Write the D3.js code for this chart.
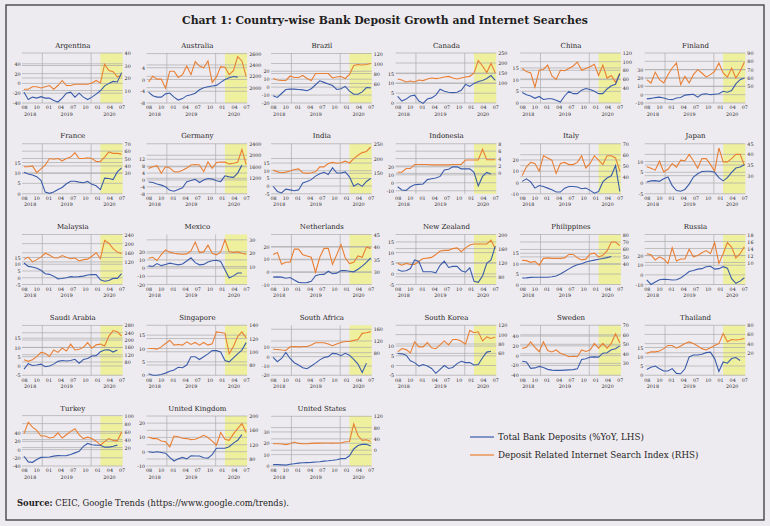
<!DOCTYPE html>
<html><head><meta charset="utf-8">
<script src="https://cdn.jsdelivr.net/npm/d3@7"></script>
<style>body{margin:0;background:#EEEBF0} svg{display:block}</style>
</head><body>
<svg id="c" width="770" height="526"></svg>
<script>
const countries = ["Argentina","Australia","Brazil","Canada","China","Finland",
"France","Germany","India","Indonesia","Italy","Japan",
"Malaysia","Mexico","Netherlands","New Zealand","Philippines","Russia",
"Saudi Arabia","Singapore","South Africa","South Korea","Sweden","Thailand",
"Turkey","United Kingdom","United States"];
const monthLabels = ["08","10","01","04","07","10","01","04","07"];
const yearLabels = ["2018","2019","2020"];
const legendLabels = ["Total Bank Deposits (%YoY, LHS)","Deposit Related Internet Search Index (RHS)"];

const leftDomain = [[-40,62],[-8,9],[-20,43],[0,25.5],[0,21.4],[-10,50],
[0,24],[-8,21],[-5,27.6],[-13.75,49],[-10,34.4],[-5,18.3],
[-5,32],[-20,41],[-10,29.5],[-5,18.5],[0,24],[-10,42],
[-5,22],[0,18.7],[-20,33.7],[-5,20.7],[-40,62],[0,27],
[-40,82],[-10,25],[0,44]];
const leftTicks = [[-40,-20,0,20,40],[-8,-4,0,4],[-20,-10,0,10,20],[0,5,10,15],[0,5,10,15],[-10,0,10,20,30],
[0,5,10,15],[-8,-4,0,4,8,12],[-5,0,5,10,15],[-10,0,10,20],[-10,0,10,20],[-5,0,5,10],
[-5,0,5,10,15],[-20,-10,0,10,20],[-10,0,10,20],[-5,0,5,10,15],[0,5,10,15],[-10,0,10,20],
[-5,0,5,10,15],[0,5,10,15],[-20,-10,0,10],[-5,0,5,10],[-40,-20,0,20,40],[0,5,10,15],
[-40,-20,0,20,40],[-10,0,10,20],[0,10,20,30]];
const rightDomain = [[0,40],[1730,2610],[21,121],[0,250],[4.3,120],[30,90],
[2.4,70],[663,2400],[81,250],[-5.5,8],[24.4,70],[21.5,45],
[21,240],[-3.4,34],[25.2,45],[58,200],[13,80],[3.7,18],
[8,281],[64.6,140],[3,173.7],[13.3,120],[17.5,70],[-29,80],
[-26,99],[60.5,200],[-56,121]];
const rightTicks = [[10,20,30,40],[2000,2200,2400,2600],[60,80,100,120],[100,150,200,250],[40,60,80,100,120],[50,60,70,80,90],
[30,40,50,60,70],[1200,1600,2000,2400],[150,200,250],[0,2,4,6,8],[40,50,60,70],[30,35,40,45],
[120,160,200,240],[10,20,30],[30,35,40,45],[80,120,160,200],[40,50,60,70,80],[10,12,14,16,18],
[80,120,160,200,240,280],[80,100,120,140],[80,120,160],[60,80,100,120],[30,40,50,60,70],[20,40,60,80],
[20,40,60,80,100],[80,120,160,200],[0,40,80,120]];

// Monthly values Aug-2018 .. Jul-2020 (null = not available)
const depArgentina = [-18,-33,-28,-30,-27,-30,-30,-35,-38,-30,-20,-18,-28,-20,-28,-33,-28,-22,-15,-5,0,4,3,22];
const srchArgentina = [11,11,13,13,12,13,14,11,14,18,14,14,15,15,15,15,16,18,16,31,26,25,21,22];
const depAustralia = [-4.3,-5.5,-6,-6,-4.9,-4.6,-6,-7,-6.5,-5.5,-5.2,-4.7,-3.5,-2.8,-2.5,-2.2,-2,-1,0,0.6,1,0.8,null,null];
const srchAustralia = [2103,2200,2150,2150,1990,2290,2290,2180,2230,2380,2230,2460,2380,2350,2470,2093,2190,2370,2360,2230,2300,2547,2470,2200];
const depBrazil = [-11,-13,-8,-3,-2.5,-2.5,-3,-3.5,-4.5,-2,3,8,6,4,2,-3,-2,1,-5,-9,-9,-6,-0.5,-1];
const srchBrazil = [70,67,66,66,75,72,72,76,70,66,80,80,80,80,71,73,74,70,78,96,98,97,98,100];
const depCanada = [3.4,1,2,3.6,4,1,-0.2,2,2.6,4,7,6,5.5,5.3,5.5,6.5,9.5,8.5,10,11,11.5,12.5,14,11.5];
const srchCanada = [120,115,105,110,105,115,112,120,125,122,125,130,133,125,120,125,130,133,150,212,185,152,198,150];
const depChina = [4.5,3.5,3,2,2.8,1.5,1.8,1.8,1.2,0.4,3,5,4,4,5.5,6.2,5.8,5,4,4,6,7.4,8,12.5];
const srchChina = [84,77,74,41,80,82,92,67,59,80,79,84,90,99,80,84,88,94,68,92,62,68,52,73];
const depFinland = [-5,-4.5,-3.5,-3,-4,-5.5,-6,-4,-3.5,-0.5,0,0.5,-3,0.5,1,0,0.5,1,4,3,5,13,18,20];
const srchFinland = [58,54,67,58,54,64,72,78,52,62,54,64,70,66,61,64,68,78,66,61,72,60,68,79];
const depFrance = [10.3,9.5,9,8.2,6.5,0.8,0.2,0.8,2,3,4.8,6,6,5.6,5.3,5.9,4.5,3.8,2,7.5,7.3,6.8,10.5,12.4];
const srchFrance = [39,39,40,31,36,41,50,49,50,47,50,52,58,50,50,51,50,46,46,52,59,57,57,56];
const depGermany = [-1.2,-1.5,-2.3,-3,-4,-6,-6.5,-5.5,-4.5,-1,-0.3,0.4,-1.5,0,0.8,0.5,-0.5,-1,2.4,1.8,1.5,4,8.6,null];
const srchGermany = [1545,1600,1640,1375,1600,1560,1430,1420,1480,1560,1660,1680,1660,1430,1770,1545,1750,1760,1760,1700,1720,1760,2200,1680];
const depIndia = [-0.1,-3.5,-4.5,-2,-2.5,-3,-2.5,2,3,4.2,6.5,8,9,7.5,12,8.5,8.5,9.2,6,-0.1,1.6,-0.2,3,4.9];
const srchIndia = [161,155,152,154,158,163,165,152,150,152,155,172,172,183,187,184,186,191,185,200,211,220,224,239];
const depIndonesia = [-5,-9,-9.5,-5,-2.5,-2,-1.5,4,5,6,8,16,17,20,20,17.5,17.5,17.5,13,-4,8,13,11,null];
const srchIndonesia = [0.3,0.3,1.3,1.3,2.4,2.4,2.4,2.4,2.3,2.3,2.3,2.3,2.3,2.4,2.4,2.4,3.6,3.6,3.6,3.6,6.5,3.7,3.7,3.7];
const depItaly = [1,3.2,0.5,-5,-2.7,-3.5,-5,-6.5,-8.5,-8.5,-5,-3.6,-3.5,-4,-5.5,-5,-7,-9.5,-8,0.5,4,6,15,-8];
const srchItaly = [41,49,53,52,45,59,57,55,43,52,53,51,51,53,59,48,52,59,55,51,59,59,57,45];
const depJapan = [0.5,1,1.1,0.8,2,2.8,-1.2,-3.5,-3.8,-3,-0.5,2.8,4.3,5.4,5.5,5.5,5,2.5,1,2.5,5,7,7.5,8.5];
const srchJapan = [34.2,33.5,32.6,36.8,31.8,33,35.7,34,37.3,37,40,37,33.5,38,38,35.3,32.1,43,36.5,36.5,38,40,40,35];
const depMalaysia = [10.9,8.4,8,7,5.5,3,2.5,1.2,-0.8,-0.6,0,0.8,0.5,0.8,1.2,2,2.3,2.3,-1.5,-2.6,-2,-0.5,-0.5,3];
const srchMalaysia = [131,141,120,130,141,158,150,138,137,148,140,134,137,124,130,132,145,160,134,214,202,178,163,156];
const depMexico = [2.7,2,5.5,3,4.5,6,5,4,5,8.7,12.5,6.7,4,4.5,7.5,9,9.5,8,-2,-12,-9.5,-6,-6,null];
const srchMexico = [16.2,17,14.5,19,22.5,20.8,20,19.5,19.2,19.5,21.7,28.3,20.5,21,26,20,18.7,21,30,21,20.5,21,20,19.2];
const depNetherlands = [-4.2,-4,-4.2,-5,-4.5,-6.5,-8.3,-8.6,-8.5,-7.5,-3,-2.1,-2,0.5,-1.5,-1,1,1,0.5,0,2,4.5,7.5,11];
const srchNetherlands = [37.1,37.9,33.2,34,34,39.2,39.2,37,36.5,36,30,36,39.5,39.5,33.2,37,41,35.8,33.5,34,36.5,36,40,39.5];
const depNewZealand = [1.9,1.2,1.5,2.5,6.5,5.8,1,1,1,0.5,4,6,3,3.5,3.5,1.5,0.8,2.8,-3.5,-4,-1,5,6.5,13];
const srchNewZealand = [118,113,118,115,115,124,132,133,135,143,153,155,155,160,162,151,162,170,173,173,173,173,184,160];
const depPhilippines = [3.1,3.2,3.4,3.5,3.5,3.5,3.5,3.7,4.1,5,6.2,7.5,8.6,9.5,10,10.8,11.3,11.7,12.1,12.5,12.9,13.4,null,null];
const srchPhilippines = [45.3,45,42.7,44,39,48,48.7,48,48,48,48.7,53.3,53.3,48.7,46,47,54,55,50,52,58,70,70,65];
const depRussia = [-5.3,-10,-7.5,-5,-4.6,-4.8,-5.3,-5,-3.3,0,3.5,4.5,6,6.5,8.5,9,6,6.5,8.5,7,-4,-8.8,-6.5,-3];
const srchRussia = [12.5,12.2,10.7,11.6,11,9.7,14.2,10.4,11,11,13.8,11.6,12,12.8,13.4,12.5,15.7,9.7,12.5,15.7,14.4,11.3,12.5,14.5];
const depSaudiArabia = [-1.7,1.2,0.3,0.5,1,-0.4,0,1,2.5,3,2.7,3,3.6,1.5,3.5,4,5.4,5.6,7.7,8.6,8.8,7.5,8.6,null];
const srchSaudiArabia = [93,84,93,110,133,128,110,146,133,156,140,178,146,150,160,186,156,174,178,168,222,252,245,222];
const depSingapore = [0.6,0,0,0.3,0.8,1.5,2,3,2.8,3.8,6.9,6.9,5.9,6.9,8,9.2,9.2,8.7,5.5,5,6.5,8,9.4,12.2];
const srchSingapore = [105,105,104,107.4,112.5,117.4,110,111,110,115,111,114,110,114,110,112,130,129,128,97,108,123,130,121];
const depSouthAfrica = [-0.7,-5.5,-2,4.5,-2,-6.5,-9,-12,-13,-10,-7,-3.5,-1,0,3.5,3,1,3.5,1.5,-3,-8,-17,-7,null];
const srchSouthAfrica = [91.6,91,89,88,100,101,100,101,101,106,114,114,114,110,104,110,115,118,118,122,125,146,148,152];
const depSouthKorea = [6.2,6,5.3,2.4,1.5,-0.3,0.5,-0.3,-1.5,-4,-2,0,-1.5,-1,1,2.2,1.5,1.5,0.3,0.5,4,6.9,7.3,null];
const srchSouthKorea = [63.2,70.4,68,61,84.5,73.8,73.8,83,72,70,78,86.6,78,89.6,89.6,86,79.6,109,104,106,86.6,95,91.7,95];
const depSweden = [-11.6,-13,-26,-25,-22,-24,-28,-29.5,-30,-30,-29.5,-29,-28.5,-27,-8,-6.5,-3,-2.5,-3,5,6,12,14,20];
const srchSweden = [45.7,46.8,52.6,46.8,42.2,52.6,43.4,42,44,40.5,39,37,37.5,37,44,42.5,44,51,46,51,46,51,61,51.6];
const depThailand = [3.1,4.3,5,3.5,2.3,2.3,3.6,1,0.8,3.5,9.9,10.9,10.9,11.3,12.2,12.5,9,2,7.2,6.5,9,9.6,8,null];
const srchThailand = [18.5,22,22,24,29,36,36,30,35,40,43.7,40,35,29,26,31,36,40,62,44,49,48,49,51];
const depTurkey = [-16.3,-30,-31,-24,-19,-18.8,-18,-16,-14.6,-15,-14.6,-12,-8,-4,8,15,12,11,10.5,6,6,8,11,null];
const srchTurkey = [54.8,83.5,71,63,49,49,44,46,57,44,52,60.5,67,52,42.5,46,42.5,36,26,35,42.5,38,37,58.8];
const depUK = [0,-0.5,0,-0.5,-1,-4,-6.5,-5,-4,-5,-2.8,-3,-3,-4.2,-4.5,-2,2.4,2.4,2.4,3.5,6,8,12,null];
const srchUK = [141.7,137,137,130,128,114,144,142,138,137,134,135,140,146,140,130,118.6,154,135,132,150,165,179,154];
const depUS = [1.2,1.2,1,0.8,1.5,2,2.5,2.8,3,3.2,3.5,3.8,4.3,4.6,5,5.5,6.5,6.5,9,15,18,19,19.2,17.7];
const srchUS = [23,23,22,19.6,23,28.8,24,23,23,24,25,25,25.6,25.6,25,25.6,25.6,30,31,93,52,35,37,31];

const depositSeries = [depArgentina,depAustralia,depBrazil,depCanada,depChina,depFinland,
depFrance,depGermany,depIndia,depIndonesia,depItaly,depJapan,
depMalaysia,depMexico,depNetherlands,depNewZealand,depPhilippines,depRussia,
depSaudiArabia,depSingapore,depSouthAfrica,depSouthKorea,depSweden,depThailand,
depTurkey,depUK,depUS];
const searchSeries = [srchArgentina,srchAustralia,srchBrazil,srchCanada,srchChina,srchFinland,
srchFrance,srchGermany,srchIndia,srchIndonesia,srchItaly,srchJapan,
srchMalaysia,srchMexico,srchNetherlands,srchNewZealand,srchPhilippines,srchRussia,
srchSaudiArabia,srchSingapore,srchSouthAfrica,srchSouthKorea,srchSweden,srchThailand,
srchTurkey,srchUK,srchUS];

const serif = "'DejaVu Serif', 'Liberation Serif', serif";
const BLUE = "#3A5CAA", ORANGE = "#E97F33", GRID = "#ABABAB", YELLOW = "#EFF09D", INK = "#1E1E1E";
const svg = d3.select("#c");
svg.append("rect").attr("width",770).attr("height",526).attr("fill","#EEEBF0");
svg.append("rect").attr("x",6).attr("y",5).attr("width",758).attr("height",515)
  .attr("fill","none").attr("stroke","#3a3a3a").attr("stroke-width",1.3);

function fit(sel, target){
  const w = sel.node().getComputedTextLength();
  const fs = parseFloat(sel.attr("font-size"));
  const nfs = fs*target/w;
  sel.attr("font-size", nfs.toFixed(2));
  return nfs;
}

const title = svg.append("text").attr("x",385).attr("y",24).attr("text-anchor","middle")
  .attr("font-family",serif).attr("font-weight","bold").attr("font-size",12).attr("fill",INK)
  .text("Chart 1: Country-wise Bank Deposit Growth and Internet Searches");
fit(title, 406);

const colPitch = 124.55, firstX0 = 24, span = 97.6, rowPitch = 90.75, titleY0 = 45;
const months = d3.range(24);
const plain = d => String(d);

countries.forEach((name, i) => {
  const c = i % 6, r = Math.floor(i / 6);
  const x0 = firstX0 + c * colPitch;
  const T = titleY0 + r * rowPitch;
  const top = T + 8, bot = T + 58;
  const x = d3.scaleLinear().domain([0, 23]).range([x0, x0 + span]);
  const yL = d3.scaleLinear().domain(leftDomain[i]).range([bot, top]);
  const yR = d3.scaleLinear().domain(rightDomain[i]).range([bot, top]);
  const labelPos = k => k * 23 / 8;
  const gl = x0 - 2, gr = x0 + span + 1;
  const g = svg.append("g");

  g.append("rect").attr("x", x(18)).attr("y", top).attr("width", gr - x(18)).attr("height", bot - top)
    .attr("fill", YELLOW);

  const grid = g.append("g").attr("stroke", GRID).attr("stroke-width", 0.7);
  leftTicks[i].forEach(v => grid.append("line").attr("x1", gl).attr("x2", gr).attr("y1", yL(v)).attr("y2", yL(v)));
  rightTicks[i].forEach(v => grid.append("line").attr("x1", gl).attr("x2", gr).attr("y1", yR(v)).attr("y2", yR(v)));
  [1.5, 5.5].forEach(k => grid.append("line").attr("x1", x(labelPos(k))).attr("x2", x(labelPos(k)))
    .attr("y1", top).attr("y2", bot));

  const axL = g.append("g").attr("transform", `translate(${gl},0)`)
    .call(d3.axisLeft(yL).tickValues(leftTicks[i]).tickFormat(plain).tickSize(0).tickPadding(1.5));
  const axR = g.append("g").attr("transform", `translate(${gr},0)`)
    .call(d3.axisRight(yR).tickValues(rightTicks[i]).tickFormat(plain).tickSize(0).tickPadding(2));
  const axB = g.append("g").attr("transform", `translate(0,${bot + 2})`)
    .call(d3.axisBottom(x).tickValues(monthLabels.map((m, k) => labelPos(k))).tickSize(0).tickPadding(1)
      .tickFormat((d, k) => monthLabels[k]));
  [axL, axR, axB].forEach(a => {
    a.select(".domain").remove();
    a.selectAll("text").attr("font-family", serif).attr("font-size", 4.8).attr("fill", INK);
  });
  [0.5, 3.5, 7].forEach((k, j) => g.append("text").attr("x", x(labelPos(k))).attr("y", T + 70.5)
    .attr("text-anchor", "middle").attr("font-family", serif).attr("font-size", 4.8).attr("fill", INK)
    .text(yearLabels[j]));

  g.append("text").attr("x", x0 + span / 2).attr("y", T + 2.5).attr("text-anchor", "middle")
    .attr("font-family", serif).attr("font-size", 7).attr("fill", INK).text(name);

  const lineL = d3.line().defined(d => depositSeries[i][d] != null).x(d => x(d)).y(d => yL(depositSeries[i][d]));
  const lineR = d3.line().defined(d => searchSeries[i][d] != null).x(d => x(d)).y(d => yR(searchSeries[i][d]));
  g.append("path").attr("d", lineR(months)).attr("fill", "none").attr("stroke", ORANGE).attr("stroke-width", 1.1);
  g.append("path").attr("d", lineL(months)).attr("fill", "none").attr("stroke", BLUE).attr("stroke-width", 1.1);
});

// legend (same font size for both entries)
let legendFs = 8;
[BLUE, ORANGE].forEach((col, j) => {
  const y = 437 + j * 18;
  svg.append("line").attr("x1", 470).attr("x2", 494).attr("y1", y).attr("y2", y).attr("stroke", col).attr("stroke-width", 1.2);
  const t = svg.append("text").attr("x", 498).attr("y", y + 3).attr("font-family", serif).attr("font-size", legendFs)
    .attr("fill", INK).text(legendLabels[j]);
  if (j === 0) legendFs = fit(t, 146);
});

const src = svg.append("text").attr("x", 17).attr("y", 506).attr("font-family", serif).attr("font-size", 7.5).attr("fill", INK);
src.append("tspan").attr("font-weight", "bold").text("Source:");
src.append("tspan").text(" CEIC, Google Trends (https://www.google.com/trends).");
fit(src, 272);
</script>
</body></html>
